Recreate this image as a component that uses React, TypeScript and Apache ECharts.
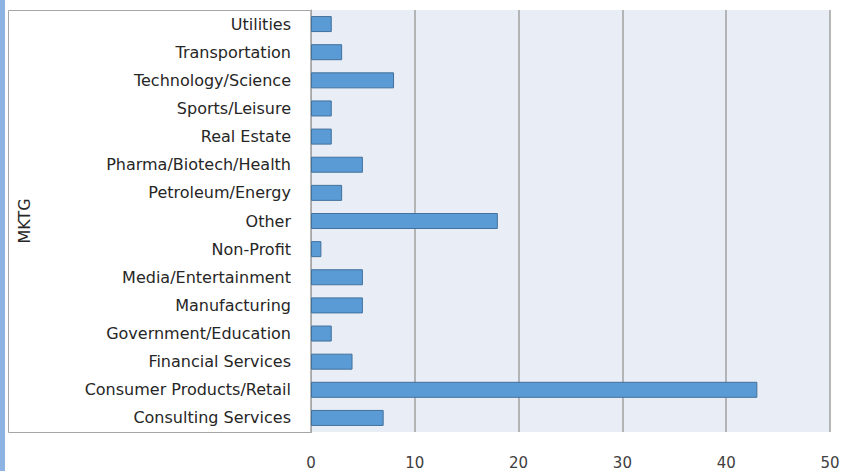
import React, { useEffect, useRef } from "react";
import * as echarts from "echarts";

const categories = [
  "Utilities",
  "Transportation",
  "Technology/Science",
  "Sports/Leisure",
  "Real Estate",
  "Pharma/Biotech/Health",
  "Petroleum/Energy",
  "Other",
  "Non-Profit",
  "Media/Entertainment",
  "Manufacturing",
  "Government/Education",
  "Financial Services",
  "Consumer Products/Retail",
  "Consulting Services",
];
const values = [2, 3, 8, 2, 2, 5, 3, 18, 1, 5, 5, 2, 4, 43, 7];
const axisTitle = "MKTG";

export default function App() {
  const ref = useRef<HTMLDivElement>(null);
  useEffect(() => {
    if (!ref.current) return;
    const chart = echarts.init(ref.current, null, { renderer: "svg" });
    const font = "DejaVu Sans";
    chart.setOption({
      animation: false,
      backgroundColor: "#ffffff",
      graphic: [
        { type: "rect", shape: { x: 0, y: 0, width: 5, height: 471 }, style: { fill: "#8db3e2" }, z: -10 },
        {
          type: "rect",
          shape: { x: 8.5, y: 10.5, width: 303, height: 422 },
          style: { fill: "#ffffff", stroke: "#a6a6a6", lineWidth: 1 },
          z: -10,
        },
      ],
      grid: {
        left: 311,
        right: 14,
        top: 10,
        bottom: 39,
        show: true,
        backgroundColor: "#e9edf5",
        borderWidth: 0,
      },
      xAxis: {
        type: "value",
        min: 0,
        max: 50,
        interval: 10,
        axisLine: { show: false },
        axisTick: { show: false },
        splitLine: { show: true, lineStyle: { color: "#a0a0a0", width: 1.5 } },
        axisLabel: { margin: 23, fontSize: 15, color: "#404040", fontFamily: font },
      },
      yAxis: {
        type: "category",
        data: categories,
        inverse: true,
        name: axisTitle,
        nameLocation: "middle",
        nameGap: 279,
        nameRotate: 90,
        nameTextStyle: { fontSize: 16, color: "#262626", fontFamily: font },
        axisLine: { show: true, lineStyle: { color: "#a6a6a6", width: 1 } },
        axisTick: { show: false },
        axisLabel: { margin: 20, fontSize: 16, color: "#262626", fontFamily: font },
      },
      series: [
        {
          type: "bar",
          data: values,
          barWidth: 16,
          itemStyle: { color: "#5b9bd5", borderColor: "#41719c", borderWidth: 1 },
        },
      ],
    });
    return () => chart.dispose();
  }, []);
  return (
    <div
      ref={ref}
      style={{ position: "absolute", left: 0, top: 0, width: 844, height: 471 }}
    />
  );
}
